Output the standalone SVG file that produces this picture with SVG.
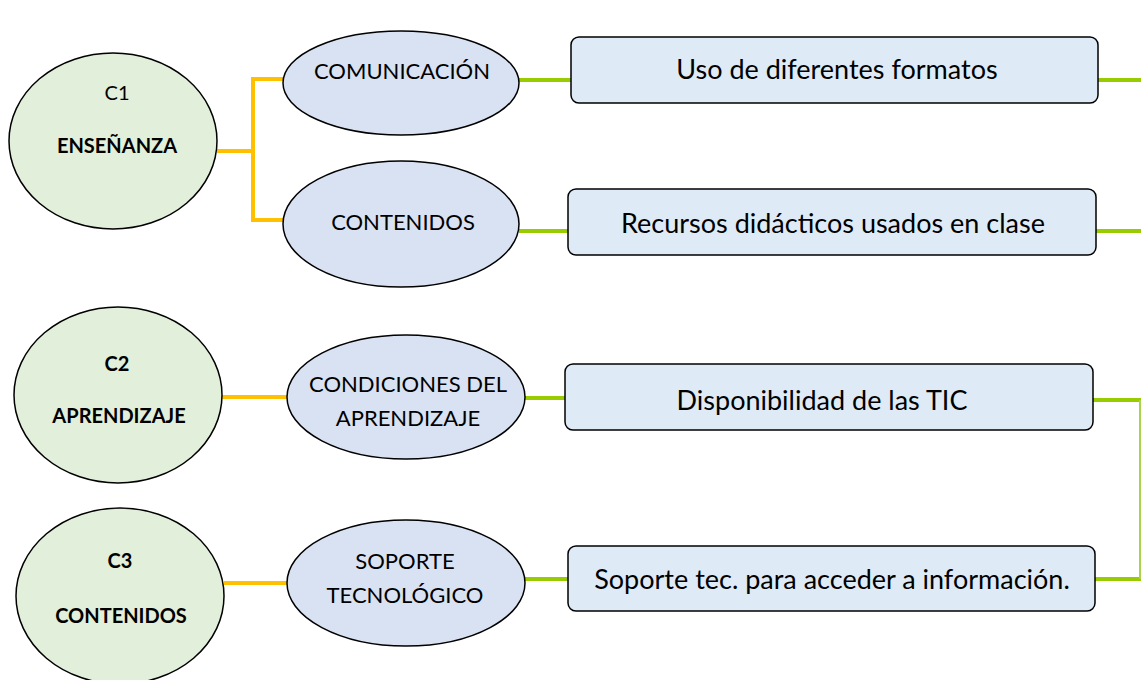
<svg xmlns="http://www.w3.org/2000/svg" width="1141" height="680" viewBox="0 0 1141 680">
<style>
.g{fill:#e2efda;stroke:#000;stroke-width:1.5}
.b{fill:#d9e2f3;stroke:#000;stroke-width:1.5}
.r{fill:#deebf7;stroke:#000;stroke-width:1.5}
.o{fill:none;stroke:#ffc000;stroke-width:4}
.l{fill:none;stroke:#99cc00;stroke-width:4}
.t{font-family:Lato,"Liberation Sans",sans-serif;fill:#000;text-anchor:middle;dominant-baseline:central}
.c{font-size:20px}
.e{font-size:22px}
.k{font-size:20px;font-weight:bold}
.x{font-size:27px}
</style>
<rect width="1141" height="680" fill="#fff"/>
<g id="connectors">
<polyline class="o" points="217,151 253,151"/>
<polyline class="o" points="284,79 253,79 253,220 284,220"/>
<line class="o" x1="222" y1="397" x2="287" y2="397"/>
<line class="o" x1="224" y1="583" x2="287" y2="583"/>
<line class="l" x1="519" y1="80" x2="571" y2="80"/>
<line class="l" x1="519" y1="231" x2="568" y2="231"/>
<line class="l" x1="525" y1="398" x2="566" y2="398"/>
<line class="l" x1="525" y1="579" x2="568" y2="579"/>
<line class="l" x1="1098" y1="80" x2="1141" y2="80"/>
<line class="l" x1="1096" y1="231" x2="1141" y2="231"/>
<line class="l" x1="1093" y1="400" x2="1141" y2="400"/>
<line class="l" x1="1095" y1="579" x2="1141" y2="579"/>
<line x1="1140" y1="400" x2="1140" y2="579" stroke="#a8d34a" stroke-width="2"/>
</g>
<g id="c1"><ellipse class="g" cx="113" cy="141" rx="104" ry="88"/>
<text class="t c" x="117" y="92">C1</text><text class="t k" x="117" y="145">ENSEÑANZA</text></g>
<g id="c2"><ellipse class="g" cx="118" cy="395" rx="104" ry="88"/>
<text class="t k" x="117" y="363">C2</text><text class="t k" x="119" y="415">APRENDIZAJE</text></g>
<g id="c3"><ellipse class="g" cx="120" cy="596" rx="104" ry="88"/>
<text class="t k" x="120" y="560">C3</text><text class="t k" x="121" y="615">CONTENIDOS</text></g>
<g id="comunicacion"><ellipse class="b" cx="401" cy="83" rx="118" ry="52"/>
<text class="t e" x="402" y="70">COMUNICACIÓN</text></g>
<g id="contenidos"><ellipse class="b" cx="401" cy="224" rx="118" ry="63"/>
<text class="t e" x="403" y="221">CONTENIDOS</text></g>
<g id="condiciones"><ellipse class="b" cx="406" cy="397" rx="119" ry="62"/>
<text class="t e" x="408" y="383">CONDICIONES DEL</text><text class="t e" x="408" y="417">APRENDIZAJE</text></g>
<g id="soporte"><ellipse class="b" cx="406" cy="583" rx="119" ry="63"/>
<text class="t e" x="405" y="560">SOPORTE</text><text class="t e" x="405" y="594">TECNOLÓGICO</text></g>
<g id="box1"><rect class="r" x="571" y="37" width="527" height="66" rx="8"/>
<text class="t x" x="837" y="68">Uso de diferentes formatos</text></g>
<g id="box2"><rect class="r" x="568" y="189" width="528" height="66" rx="8"/>
<text class="t x" x="833" y="222">Recursos didácticos usados en clase</text></g>
<g id="box3"><rect class="r" x="565" y="364" width="528" height="66" rx="8"/>
<text class="t x" x="822" y="399">Disponibilidad de las TIC</text></g>
<g id="box4"><rect class="r" x="568" y="546" width="527" height="65" rx="8"/>
<text class="t x" x="832" y="578">Soporte tec. para acceder a información.</text></g>
</svg>
